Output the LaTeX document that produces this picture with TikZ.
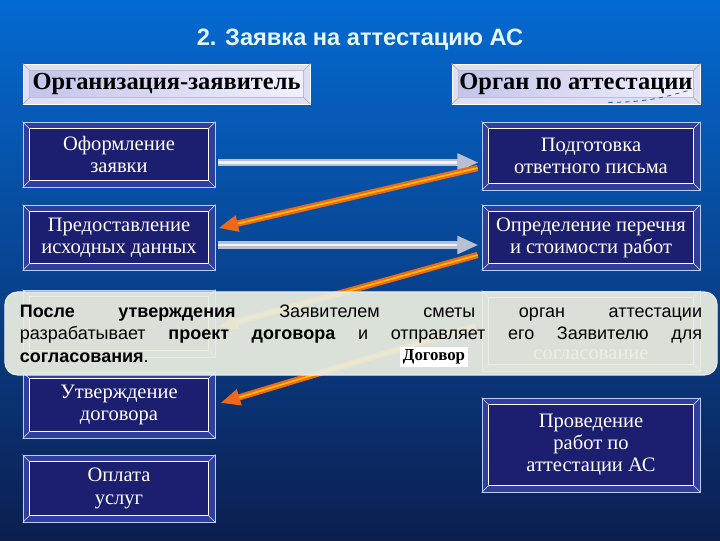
\documentclass[tikz,border=0pt]{standalone}
\usepackage{fontspec}
\setmainfont{Liberation Serif}
\newfontfamily\arialfont{Liberation Sans}
\usetikzlibrary{arrows.meta}
\definecolor{bgtop}{RGB}{4,106,210}
\definecolor{bgmid}{RGB}{10,66,150}
\definecolor{bgbot}{RGB}{12,30,80}
\definecolor{bevelblue}{RGB}{48,62,156}
\definecolor{faceblue}{RGB}{28,30,112}
\definecolor{edgeblue}{RGB}{185,205,255}
\definecolor{palebevel}{RGB}{222,222,244}
\definecolor{paleface}{RGB}{196,196,236}
\definecolor{noteback}{RGB}{234,238,224}
\definecolor{arroworange}{RGB}{238,104,26}
\definecolor{arrowgray}{RGB}{186,192,212}

\tikzset{
  x=0.025cm, y=-0.025cm,
  dark outer/.style={draw=edgeblue, fill=bevelblue, line width=0.6pt, inner sep=0pt},
  dark face/.style={draw=white, fill=faceblue, line width=0.7pt},
  dark edge/.style={draw=edgeblue, line width=0.5pt},
  dark text/.style={text=white, align=center, font=\fontsize{14.6}{15.8}\selectfont},
  pale outer/.style={draw=white, fill=palebevel, line width=0.6pt, inner sep=0pt},
  pale face/.style={draw=gray!50, left color=paleface, right color=white!94!blue},
  pale edge/.style={draw=gray!60, line width=0.5pt},
  pale text/.style={text=black, font=\bfseries\fontsize{17.4}{19}\selectfont},
  gray arrow/.style={line width=5pt, arrowgray, -{Triangle[length=15pt, width=12pt]}},
  gray shine/.style={line width=1.8pt, white!94!blue, shorten >=15pt},
  orange arrow/.style={line width=4.5pt, arroworange, -{Triangle[length=14pt, width=11pt]}},
  orange shine/.style={line width=1.2pt, orange!50!yellow, shorten >=14pt},
  note/.style={rounded corners=9pt, draw=white!85!gray, line width=0.8pt,
    fill=noteback, fill opacity=0.93, text opacity=1,
    minimum width=17.8cm, minimum height=2.075cm, text width=17.05cm,
    align=justify, font=\arialfont\fontsize{12.8}{16}\selectfont},
  deal label/.style={fill=white, inner sep=2pt, font=\bfseries\fontsize{12}{13}\selectfont}
}

% kind, name, centre, width, height, text
\newcommand{\bevelbox}[6]{%
  \node[#1 outer, minimum width=#4*0.025cm, minimum height=#5*0.025cm] (#2) at (#3) {};
  \draw[#1 face] ([shift={(7,7)}]#2.north west) rectangle ([shift={(-7,-7)}]#2.south east);
  \draw[#1 edge] (#2.north west) -- ++(7,7) (#2.north east) -- ++(-7,7)
    (#2.south west) -- ++(7,-7) (#2.south east) -- ++(-7,-7);
  \node[#1 text] (#2-t) at (#2) {#6};
}

\begin{document}
\begin{tikzpicture}
  \shade[top color=bgtop, middle color=bgmid, bottom color=bgbot] (0,0) rectangle (720,540);
  \useasboundingbox (0,0) rectangle (720,540);

  \node[text=white!90!cyan, font=\arialfont\bfseries\fontsize{16.8}{19}\selectfont] (title) at (360,40) {2. Заявка на аттестацию АС};

  % headers
  \bevelbox{pale}{zaj}{166.5,84}{287}{40}{Организация-заявитель}
  \bevelbox{pale}{att}{576,84}{248}{40}{Орган по аттестации}
  \draw[dashed, cyan!40!blue, line width=0.6pt] ([shift={(-92,-2)}]att.south east) to[bend right=8] ([shift={(-12,-14)}]att.south east);

  % applicant side
  \bevelbox{dark}{ofo}{119,154.5}{192}{65}{Оформление\\заявки}
  \bevelbox{dark}{pred}{119,237.5}{192}{65}{Предоставление\\исходных данных}
  \bevelbox{dark}{sme}{119,323.5}{192}{67}{}
  \bevelbox{dark}{utv}{119,405}{192}{66}{Утверждение\\договора}
  \bevelbox{dark}{opl}{119,488.5}{192}{67}{Оплата\\услуг}

  % attestation body side
  \bevelbox{dark}{pod}{591,156}{218}{68}{Подготовка\\ответного письма}
  \bevelbox{dark}{opr}{591,237.5}{218}{65}{Определение перечня\\и стоимости работ}
  \bevelbox{dark}{rzr}{591,331}{218}{80}{\phantom{x}\\\phantom{x}\\[3pt]согласование}
  \bevelbox{dark}{pro}{591,445}{218}{94}{Проведение\\работ по\\аттестации АС}

  % flows
  \draw[gray arrow] ([shift={(3,8)}]ofo.east) -- ([shift={(-3,6.5)}]pod.west);
  \draw[gray shine] ([shift={(3,8)}]ofo.east) -- ([shift={(-3,6.5)}]pod.west);
  \draw[gray arrow] ([shift={(3,7.5)}]pred.east) -- ([shift={(-3,7.5)}]opr.west);
  \draw[gray shine] ([shift={(3,7.5)}]pred.east) -- ([shift={(-3,7.5)}]opr.west);
  \draw[orange arrow] ([shift={(-4,12)}]pod.west) -- ([shift={(3,-9.5)}]pred.east);
  \draw[orange shine] ([shift={(-4,12)}]pod.west) -- ([shift={(3,-9.5)}]pred.east);
  \draw[orange arrow] ([shift={(-4,17.5)}]opr.west) -- ([shift={(3,3.5)}]sme.east);
  \draw[orange shine] ([shift={(-4,17.5)}]opr.west) -- ([shift={(3,3.5)}]sme.east);
  \draw[orange arrow] ([shift={(-6,-5)}]rzr.west) -- ([shift={(5,-2)}]utv.east);
  \draw[orange shine] ([shift={(-6,-5)}]rzr.west) -- ([shift={(5,-2)}]utv.east);

  % overlay
  \node[note] (txt) at (361,333.5) {\textbf{После утверждения} Заявителем сметы орган аттестации\linebreak
    разрабатывает \textbf{проект договора} и отправляет его Заявителю для\linebreak
    \textbf{согласования}.};
  \node[deal label] (dog) at (434,357) {Договор};
\end{tikzpicture}
\end{document}
